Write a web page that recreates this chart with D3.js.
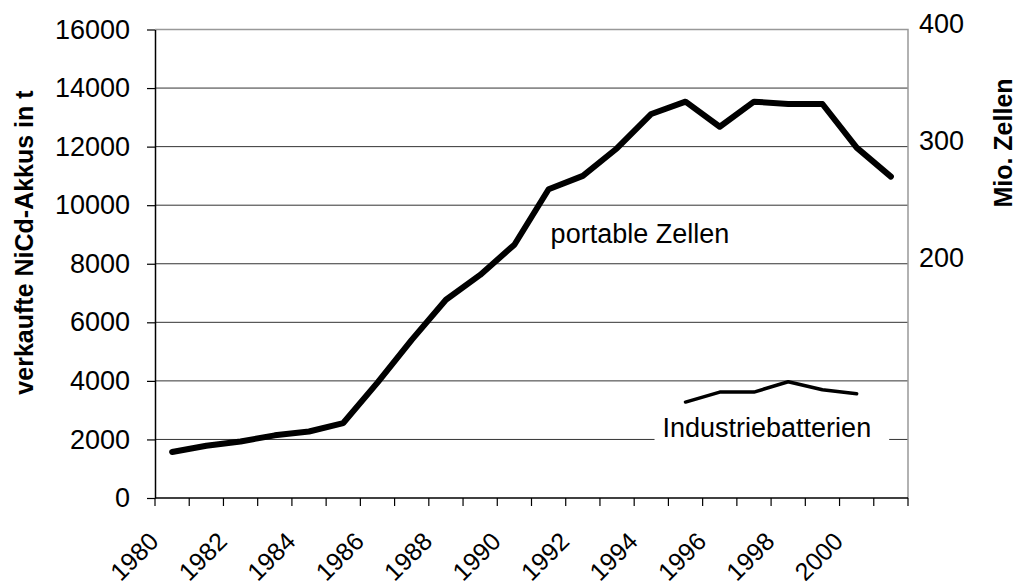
<!DOCTYPE html>
<html>
<head>
<meta charset="utf-8">
<script src="https://cdn.jsdelivr.net/npm/d3@7"></script>
<style>
  body { margin: 0; background: #fff; }
  svg { display: block; font-family: Arial, "Liberation Sans", sans-serif; }
</style>
</head>
<body>
<svg width="1019" height="586"></svg>
<script>
// years on the x axis
const years = d3.range(1980, 2002);
const yearLabels = [1980, 1982, 1984, 1986, 1988, 1990, 1992, 1994, 1996, 1998, 2000];

// sold NiCd batteries in t
const portable = [1570, 1785, 1930, 2140, 2270, 2560, 3940, 5400, 6770, 7620, 8650,
                  10545, 11000, 11945, 13115, 13535, 12680, 13535, 13455, 13455, 11965, 10975];
const industrieYears = [1995, 1996, 1997, 1998, 1999, 2000];
const industrie = [3276, 3618, 3618, 3969, 3696, 3560];

const leftTicks = [0, 2000, 4000, 6000, 8000, 10000, 12000, 14000, 16000];
const rightTicks = [200, 300, 400];

const svg = d3.select("svg");
const pLeft = 155, pRight = 908, pTop = 29.5, pBottom = 498;

const x = d3.scaleBand()
    .domain(years)
    .range([pLeft, pRight])
    .padding(0);

const y = d3.scaleLinear()
    .domain([0, 16000])
    .range([pBottom, pTop]);

const yR = d3.scaleLinear()
    .domain([0, 400])
    .range([pBottom, pTop]);

// gridlines
svg.append("g")
    .selectAll("line")
    .data(leftTicks.filter(d => d > 0 && d < 16000))
    .join("line")
    .attr("x1", pLeft)
    .attr("x2", pRight)
    .attr("y1", d => y(d))
    .attr("y2", d => y(d))
    .attr("stroke", "#333")
    .attr("stroke-width", 1);

// plot border (top + right, grey)
svg.append("path")
    .attr("d", `M${pLeft},${pTop}H${pRight}V${pBottom}`)
    .attr("fill", "none")
    .attr("stroke", "#999")
    .attr("stroke-width", 1.5);

// left axis
const leftAxis = svg.append("g")
    .attr("transform", `translate(${pLeft},0)`)
    .call(d3.axisLeft(y).tickValues(leftTicks).tickFormat(d3.format("d"))
        .tickSize(8).tickSizeOuter(0).tickPadding(17));
leftAxis.select(".domain").attr("stroke", "#000").attr("stroke-width", 1.5);
leftAxis.selectAll(".tick line").attr("stroke", "#000").attr("stroke-width", 1.2);
leftAxis.selectAll(".tick text")
    .style("font-size", "27px")
    .attr("fill", "#000")
    .attr("font-family", "Arial, 'Liberation Sans', sans-serif");

// right axis labels
const rightAxis = svg.append("g")
    .attr("transform", `translate(${pRight},0)`)
    .call(d3.axisRight(yR).tickValues(rightTicks).tickSize(0).tickPadding(11));
rightAxis.select(".domain").remove();
rightAxis.selectAll(".tick text")
    .style("font-size", "27px")
    .attr("fill", "#000")
    .attr("dy", "0.1em")
    .attr("font-family", "Arial, 'Liberation Sans', sans-serif");

// bottom axis
const bx = svg.append("g");
bx.append("line")
    .attr("x1", pLeft).attr("x2", pRight)
    .attr("y1", pBottom).attr("y2", pBottom)
    .attr("stroke", "#000").attr("stroke-width", 1.5);
const tickXs = years.map(d => x(d)).concat([x.range()[1]]);
bx.selectAll(".xt")
    .data(tickXs)
    .join("line")
    .attr("class", "xt")
    .attr("x1", d => d).attr("x2", d => d)
    .attr("y1", pBottom).attr("y2", pBottom + 8)
    .attr("stroke", "#000").attr("stroke-width", 1.2);
bx.selectAll(".xl")
    .data(yearLabels)
    .join("text")
    .attr("class", "xl")
    .attr("text-anchor", "end")
    .attr("transform", d => `translate(${x(d) + x.bandwidth() / 2 - 12},${pBottom + 45}) rotate(-45)`)
    .style("font-size", "25px")
    .text(d => d);

// lines
const line = d3.line()
    .x(d => x(d[0]) + x.bandwidth() / 2)
    .y(d => y(d[1]));

svg.append("path")
    .datum(years.map((yr, i) => [yr, portable[i]]))
    .attr("d", line)
    .attr("fill", "none")
    .attr("stroke", "#000")
    .attr("stroke-width", 6)
    .attr("stroke-linejoin", "round")
    .attr("stroke-linecap", "round");

svg.append("path")
    .datum(industrieYears.map((yr, i) => [yr, industrie[i]]))
    .attr("d", line)
    .attr("fill", "none")
    .attr("stroke", "#000")
    .attr("stroke-width", 3.5)
    .attr("stroke-linejoin", "round")
    .attr("stroke-linecap", "round");

// series labels
svg.append("text")
    .attr("x", x(1991) + x.bandwidth() / 2 + 2)
    .attr("y", y(8710))
    .style("font-size", "27px")
    .text("portable Zellen");

const indLabel = svg.append("g");
const indText = indLabel.append("text")
    .attr("x", x(1995) + x.bandwidth() / 2 - 23)
    .attr("y", y(2090))
    .style("font-size", "27px")
    .text("Industriebatterien");
const bb = indText.node().getBBox();
indLabel.insert("rect", "text")
    .attr("x", bb.x - 8)
    .attr("y", bb.y)
    .attr("width", bb.width + 26)
    .attr("height", bb.height)
    .attr("fill", "#fff");

// axis titles
svg.append("text")
    .attr("transform", `translate(33,${(88 + 397) / 2}) rotate(-90)`)
    .attr("text-anchor", "middle")
    .style("font-size", "25px")
    .style("font-weight", "bold")
    .text("verkaufte NiCd-Akkus in t");

svg.append("text")
    .attr("transform", `translate(1012,${(73 + 213) / 2}) rotate(-90)`)
    .attr("text-anchor", "middle")
    .style("font-size", "25px")
    .style("font-weight", "bold")
    .text("Mio. Zellen");
</script>
</body>
</html>
